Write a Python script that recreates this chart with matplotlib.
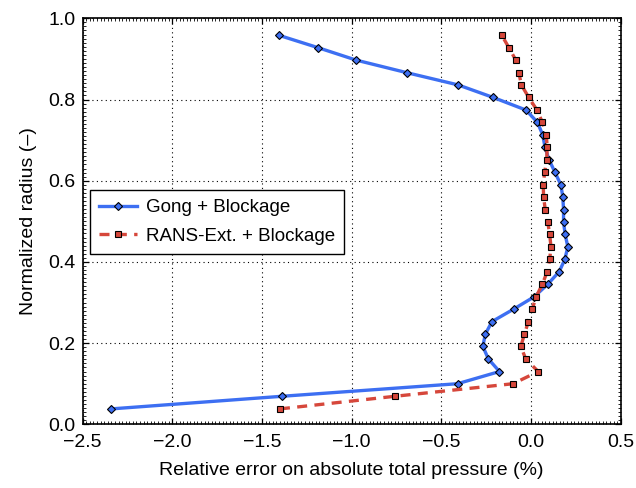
import numpy as np
import matplotlib
matplotlib.use('Agg')
import matplotlib.pyplot as plt
from matplotlib.ticker import MultipleLocator

plt.rcParams['font.family'] = ['Liberation Sans', 'DejaVu Sans']

# normalized radius of the measurement points
radius = [0.038, 0.069, 0.100, 0.130, 0.161, 0.192, 0.222, 0.253, 0.284, 0.314,
          0.345, 0.376, 0.406, 0.437, 0.468, 0.498, 0.529, 0.560, 0.590, 0.621,
          0.652, 0.682, 0.713, 0.744, 0.774, 0.805, 0.836, 0.866, 0.897, 0.928, 0.958]

# Gong + Blockage
gong = [-2.34, -1.39, -0.41, -0.176, -0.238, -0.269, -0.255, -0.218, -0.096, 0.017,
        0.093, 0.157, 0.188, 0.205, 0.190, 0.181, 0.181, 0.177, 0.166, 0.133,
        0.10, 0.078, 0.065, 0.035, -0.028, -0.211, -0.407, -0.692, -0.975, -1.19, -1.405]

# RANS-Ext. + Blockage
rans = [-1.40, -0.76, -0.100, 0.040, -0.030, -0.057, -0.037, -0.015, 0.007, 0.028,
        0.063, 0.090, 0.104, 0.111, 0.104, 0.093, 0.079, 0.070, 0.068, 0.076,
        0.087, 0.090, 0.085, 0.063, 0.033, -0.013, -0.054, -0.068, -0.085, -0.124, -0.163]

fig = plt.figure(figsize=(6.36, 4.88), dpi=100)
ax = fig.add_axes([0.130, 0.1305, 0.846, 0.832])

ax.plot(gong, radius, '-', color='#3d6ff2', linewidth=2.4,
        marker='D', markersize=4.2, markerfacecolor='#3d6ff2',
        markeredgecolor='black', markeredgewidth=0.8, label='Gong + Blockage')
ax.plot(rans, radius, '--', color='#d6473b', linewidth=2.4, dashes=(3, 2.2),
        marker='s', markersize=4.2, markerfacecolor='#d6473b',
        markeredgecolor='black', markeredgewidth=0.8, label='RANS-Ext. + Blockage')

ax.set_xlim(-2.5, 0.5)
ax.set_ylim(0.0, 1.0)
ax.xaxis.set_major_locator(MultipleLocator(0.5))
ax.yaxis.set_major_locator(MultipleLocator(0.2))
ax.xaxis.set_minor_locator(MultipleLocator(0.02))
ax.yaxis.set_minor_locator(MultipleLocator(0.01))
ax.tick_params(which='both', direction='in', top=True, right=True, labelsize=14)
ax.tick_params(axis='x', which='major', pad=7)
ax.tick_params(axis='y', which='major', pad=5)
ax.tick_params(which='major', length=4, width=0.9)
ax.tick_params(which='minor', length=2, width=0.6)
ax.grid(True, which='major', linestyle=(0, (1, 3)), color='black', linewidth=0.8)
for s in ax.spines.values():
    s.set_linewidth(1.2)

ax.set_xlabel('Relative error on absolute total pressure (%)', fontsize=14, labelpad=8)
ax.set_ylabel('Normalized radius (\u2013)', fontsize=14, labelpad=8)

leg = ax.legend(loc='upper left', bbox_to_anchor=(0.013, 0.578), borderaxespad=0,
                fontsize=13.5, fancybox=False, framealpha=1, edgecolor='black',
                handlelength=2.0, borderpad=0.5, labelspacing=0.6, handletextpad=0.5)
leg.get_frame().set_linewidth(1.0)

fig.savefig('out.png', dpi=100)
